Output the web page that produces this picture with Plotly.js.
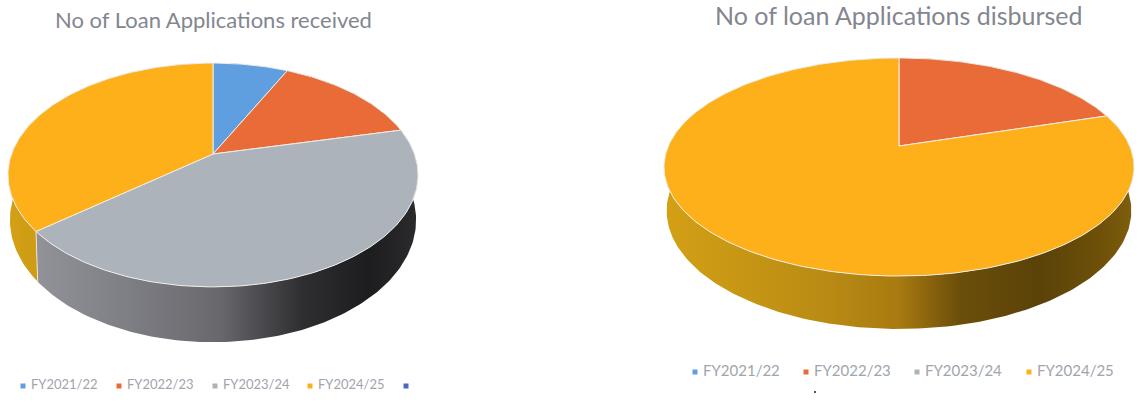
<!DOCTYPE html>
<html>
<head>
<meta charset="utf-8">
<script src="https://cdn.plot.ly/plotly-3.0.1.min.js"></script>
<style>html,body{margin:0;padding:0;background:#fff}#chart{width:1141px;height:402px}</style>
</head>
<body>
<div id="chart"></div>
<script>
// Fiscal years shared by both charts
const categories = ['FY2021/22', 'FY2022/23', 'FY2023/24', 'FY2024/25'];

// Share of applications per fiscal year (percent)
const received = [7.1, 14.2, 42.8, 35.9];
const disbursed = [0, 20.1, 0, 79.9];

const sliceColors = ['#5f9fe0', '#e96b38', '#adb3ba', '#fdb01a'];

// Horizontal shading of the pie's outer wall, one ramp per slice colour
const wallRamps = [
  [[0, '#5486bb'], [0.5, '#3c6289'], [1, '#243a52']],
  [[0, '#c65b2f'], [0.5, '#8f4322'], [1, '#552814']],
  [[0, '#98989f'], [0.3, '#7d7d84'], [0.52, '#68686c'], [0.62, '#4a4a4e'], [0.72, '#2e2e30'], [0.88, '#1d1d1f'], [1, '#2b2b2d']],
  [[0, '#d3a015'], [0.35, '#b98b14'], [0.5, '#a87a10'], [0.63, '#6b4e0a'], [0.8, '#5a4208'], [0.93, '#6e5008'], [1, '#80600c']]
];

// Perspective set-up of each pie: apex of the top face, lower rim, tilt factor
const pies = [
  { values: received, xa: 'x', ya: 'y', cx: 213, top: { y0: 154, a: 201.4, b: 108 }, low: { y0: 197, a: 199.5, b: 118 }, k: 0.1875 },
  { values: disbursed, xa: 'x2', ya: 'y2', cx: 899, top: { y0: 146, a: 230.6, b: 105 }, low: { y0: 188, a: 228, b: 113.8 }, k: 0.1927 }
];

// Project a clockwise-from-twelve angle onto a tilted disc
function project(pie, disc, deg) {
  const t = deg * Math.PI / 180, u = Math.sin(t), v = Math.cos(t), w = 1 + pie.k * v;
  return [pie.cx + disc.a * u / w, disc.y0 - disc.b * v / w];
}

function arc(pie, disc, from, to) {
  const n = Math.max(2, Math.ceil(Math.abs(to - from))), pts = [];
  for (let i = 0; i <= n; i++) pts.push(project(pie, disc, from + (to - from) * i / n));
  return pts;
}

function polygon(pie, pts, extra) {
  return Object.assign({
    type: 'scatter', mode: 'lines', xaxis: pie.xa, yaxis: pie.ya, hoverinfo: 'skip', showlegend: false,
    x: pts.map(p => p[0]), y: pts.map(p => p[1]), fill: 'toself'
  }, extra);
}

const traces = [];
pies.forEach(pie => {
  const total = pie.values.reduce((s, v) => s + v, 0);
  const spans = [];
  let acc = 0;
  pie.values.forEach((v, i) => {
    const from = acc / total * 360;
    acc += v;
    if (v > 0) spans.push({ i, from, to: acc / total * 360, name: categories[i] });
  });
  const left = pie.cx - pie.top.a / Math.sqrt(1 - pie.k * pie.k);
  const right = pie.cx + pie.top.a / Math.sqrt(1 - pie.k * pie.k);

  // Outer wall, drawn first so the top face covers its far side
  spans.forEach(s => {
    const pts = arc(pie, pie.top, s.from, s.to).concat(arc(pie, pie.low, s.to, s.from));
    pts.push(pts[0]);
    traces.push(polygon(pie, pts, {
      name: s.name + ' wall', line: { width: 0 },
      fillgradient: { type: 'horizontal', start: left, stop: right, colorscale: wallRamps[s.i] }
    }));
  });
  // Seams between neighbouring wall sections
  spans.forEach(s => {
    const a = project(pie, pie.top, s.from), b = project(pie, pie.low, s.from);
    traces.push(polygon(pie, [a, b], { name: s.name + ' seam', fill: 'none', line: { color: '#e9e6dc', width: 1 } }));
  });
  // Top face slices
  spans.forEach(s => {
    const apex = [pie.cx, pie.top.y0];
    const pts = [apex].concat(arc(pie, pie.top, s.from, s.to), [apex]);
    traces.push(polygon(pie, pts, {
      name: s.name, fillcolor: sliceColors[s.i], line: { color: '#efeee8', width: 1 }
    }));
  });
});

// Legend rows: a square marker with its label set a little to the right
const legendText = '#a0a5ad';
function legendItem(xa, ya, x, y, color, label, size, fontSize) {
  traces.push({
    type: 'scatter', mode: 'markers', xaxis: xa, yaxis: ya, hoverinfo: 'skip', showlegend: false,
    x: [x], y: [y], marker: { color, size, symbol: 'square' }
  });
  if (label) {
    traces.push({
      type: 'scatter', mode: 'text', xaxis: xa, yaxis: ya, hoverinfo: 'skip', showlegend: false,
      x: [x + 8], y: [y], text: [label], textposition: 'middle right',
      textfont: { family: 'Lato, sans-serif', size: fontSize, color: legendText }
    });
  }
}
const legendLeftX = [23, 119, 215, 310];
const legendRightX = [695, 806, 917, 1029];
categories.forEach((c, i) => {
  legendItem('x', 'y', legendLeftX[i], 386, sliceColors[i], c, 5, 13);
  legendItem('x2', 'y2', legendRightX[i], 372, sliceColors[i], c, 5, 15);
});
legendItem('x', 'y', 406, 386, '#4a68c4', '', 5);
legendItem('x2', 'y2', 815, 392, '#555', '', 2);

const titleFont = { family: 'Lato, sans-serif', color: '#83868f' };
const hidden = { visible: false, fixedrange: true };
const layout = {
  width: 1141, height: 402, margin: { l: 0, r: 0, t: 0, b: 0 },
  paper_bgcolor: '#ffffff', plot_bgcolor: '#ffffff', showlegend: false,
  xaxis: Object.assign({ domain: [0, 0.5], range: [0, 570.5] }, hidden),
  yaxis: Object.assign({ domain: [0, 1], range: [402, 0], anchor: 'x' }, hidden),
  xaxis2: Object.assign({ domain: [0.5, 1], range: [570.5, 1141] }, hidden),
  yaxis2: Object.assign({ domain: [0, 1], range: [402, 0], anchor: 'x2' }, hidden),
  annotations: [
    { xref: 'x', yref: 'y', x: 213, y: 19, text: 'No of Loan Applications received', showarrow: false,
      font: Object.assign({ size: 22 }, titleFont) },
    { xref: 'x2', yref: 'y2', x: 898, y: 15, text: 'No of loan Applications disbursed', showarrow: false,
      font: Object.assign({ size: 25 }, titleFont) }
  ]
};

Plotly.newPlot('chart', traces, layout, { displayModeBar: false, staticPlot: true });
</script>
</body>
</html>
